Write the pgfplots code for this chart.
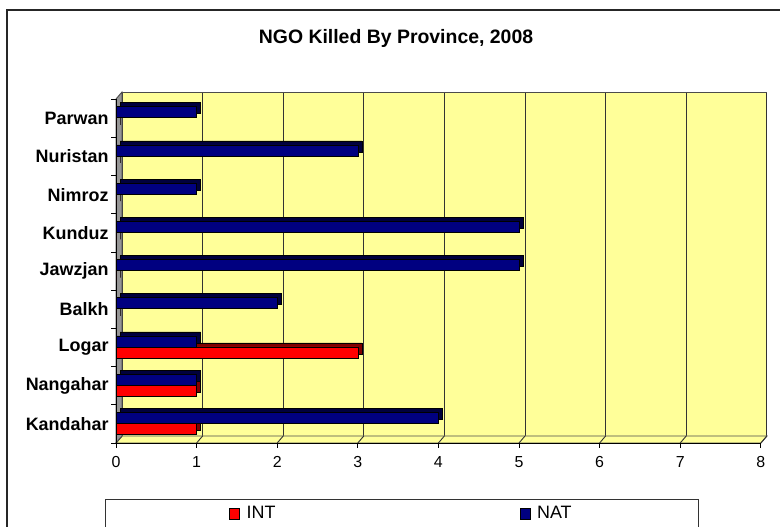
\documentclass[border=0pt]{standalone}
\usepackage{pgfplots}
\pgfplotsset{compat=1.18}
\usepackage{fontspec}
\setmainfont{Liberation Sans}
\definecolor{wallyellow}{RGB}{255,255,153}
\definecolor{natblue}{RGB}{0,0,128}
\definecolor{natdark}{RGB}{0,0,60}
\definecolor{intred}{RGB}{255,0,0}
\definecolor{intdark}{RGB}{128,0,0}
\definecolor{wallgrey}{RGB}{150,150,150}
\begin{document}
\begin{tikzpicture}[x=1bp,y=1bp]
\useasboundingbox (0,0) rectangle (780,527);
\fill[white] (0,0) rectangle (780,527);
\draw[line width=1.6bp, black!85] (7,-10) rectangle (790,517);
% back wall
\fill[wallyellow] (122,91) rectangle (767,435);
\foreach \k in {0,...,8} \draw[black!80, line width=0.9bp] ({122+80.6*\k},91) -- ({122+80.6*\k},435);
\draw[black!70, line width=0.9bp] (122,435) -- (767,435);
% floor
\filldraw[fill=wallyellow, draw=black!70, line width=0.9bp] (116,84) -- (761,84) -- (767,91) -- (122,91) -- cycle;
\foreach \k in {0,...,8} \draw[black!80, line width=0.9bp] ({116+80.6*\k},84) -- ({122+80.6*\k},91);
% side wall
\filldraw[fill=wallgrey, draw=black!70, line width=0.9bp] (116,84) -- (122,91) -- (122,435) -- (116,428) -- cycle;
\node[font=\bfseries\fontsize{19.5}{19.5}\selectfont] at (396,489) {NGO Killed By Province, 2008};
\draw[black!80, line width=0.9bp] (105,-5) rectangle (698,28);
\begin{axis}[
  at={(116bp,84bp)}, anchor=south west,
  x=80.6bp, y=38.2bp,
  xmin=0, xmax=8, ymin=-0.5, ymax=8.5,
  axis x line*=bottom, axis y line*=left,
  axis line style={-, black, line width=0.9bp},
  xtick={0,...,8}, tick align=outside, major tick length=5bp,
  tick style={black, line width=0.9bp},
  ytick={-0.5,0.5,...,8.5}, y tick label as interval,
  yticklabels={Kandahar,Nangahar,Logar,Balkh,Jawzjan,Kunduz,Nimroz,Nuristan,Parwan},
  y tick label style={font=\bfseries\fontsize{18}{18}\selectfont, xshift=1bp},
  x tick label style={font=\fontsize{16}{16}\selectfont, yshift=-5bp},
  /pgf/number format/assume math mode=true,
  clip=false,
  xbar, bar width=11bp,
  legend style={at={(0.175,-0.205)}, anchor=west, draw=none, fill=none,
    inner xsep=0pt, inner ysep=0pt,
    legend columns=2, font=\fontsize{18}{18}\selectfont,
    /tikz/every odd column/.append style={column sep=5bp},
    /tikz/every even column/.append style={column sep=242bp}},
  legend image code/.code={\draw[#1] (0bp,-5.5bp) rectangle (10bp,5.5bp);},
]
\addplot[bar shift=-5bp, fill=intdark, draw=black, line width=0.6bp, xshift=4bp, yshift=4bp, forget plot]
  coordinates {(1,0) (1,1) (3,2) (0,3) (0,4) (0,5) (0,6) (0,7) (0,8)};
\addplot[bar shift=-5bp, fill=intred, draw=black, line width=0.6bp]
  coordinates {(1,0) (1,1) (3,2) (0,3) (0,4) (0,5) (0,6) (0,7) (0,8)};
\addlegendentry{INT}
\addplot[bar shift=6bp, fill=natdark, draw=black, line width=0.6bp, xshift=4bp, yshift=4bp, forget plot]
  coordinates {(4,0) (1,1) (1,2) (2,3) (5,4) (5,5) (1,6) (3,7) (1,8)};
\addplot[bar shift=6bp, fill=natblue, draw=black, line width=0.6bp]
  coordinates {(4,0) (1,1) (1,2) (2,3) (5,4) (5,5) (1,6) (3,7) (1,8)};
\addlegendentry{NAT}
\end{axis}
\end{tikzpicture}
\end{document}
